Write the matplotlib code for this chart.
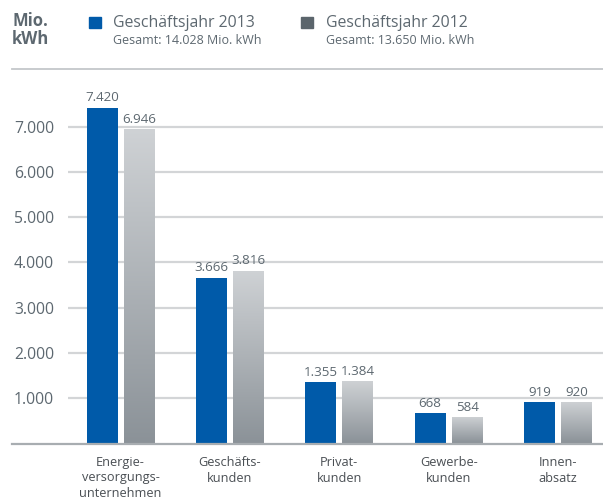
import numpy as np
import matplotlib
matplotlib.use("Agg")
import matplotlib.pyplot as plt
from matplotlib.lines import Line2D
from matplotlib.patches import Rectangle
from matplotlib.ticker import FuncFormatter

plt.rcParams['font.family'] = ['Open Sans', 'DejaVu Sans']

categories = ["Energie-\nversorgungs-\nunternehmen", "Geschäfts-\nkunden",
              "Privat-\nkunden", "Gewerbe-\nkunden", "Innen-\nabsatz"]
values_2013 = [7420, 3666, 1355, 668, 919]
values_2012 = [6946, 3816, 1384, 584, 920]
series_names = ["Geschäftsjahr 2013", "Geschäftsjahr 2012"]
totals = ["Gesamt: 14.028 Mio. kWh", "Gesamt: 13.650 Mio. kWh"]
yticks = [1000, 2000, 3000, 4000, 5000, 6000, 7000]

BLUE = "#005aa9"
TXT = "#5d6870"
GRID = "#d3d5d7"

def de_fmt(v):
    return f"{int(round(v)):,}".replace(",", ".")

W, H = 603, 500
fig = plt.figure(figsize=(W / 100, H / 100), dpi=100)
ax = fig.add_axes([68 / W, (H - 443.5) / H, 1 - 68 / W, (443.5 - 81.4) / H])

x = np.arange(len(categories))
bw = 0.283
off = 0.169

ax.bar(x - off, values_2013, width=bw, color=BLUE, zorder=3)

# gray bars with vertical gradient, light on top, darker at the base
grad = np.linspace(0, 1, 256).reshape(-1, 1)
cmap = matplotlib.colors.LinearSegmentedColormap.from_list("g", ["#8b9298", "#cfd2d5"])
bars12 = ax.bar(x + off, values_2012, width=bw, color="none", zorder=3)
for b in bars12:
    x0 = b.get_x()
    w, h = b.get_width(), b.get_height()
    im = ax.imshow(grad, extent=[x0, x0 + w, 0, h], origin="lower", cmap=cmap,
                   aspect="auto", zorder=3, interpolation="bilinear")
    im.set_clip_path(b)
ax.set_xlim(-0.48, 4.41)
ax.set_ylim(0, 8000)

for xs, vals in ((x - off, values_2013), (x + off, values_2012)):
    for xi, v in zip(xs, vals):
        ax.text(xi, v + 140, de_fmt(v), ha="center", va="baseline",
                fontsize=9.6, color=TXT)

ax.set_yticks(yticks)
ax.yaxis.set_major_formatter(FuncFormatter(lambda v, p: de_fmt(v)))
ax.tick_params(axis="y", length=0, pad=10, labelsize=11.3, labelcolor=TXT)
ax.grid(axis="y", color=GRID, linewidth=1.6, zorder=0)
ax.set_xticks(x)
ax.set_xticklabels(categories, fontsize=9.2, color="#4a4f54", linespacing=1.25)
ax.tick_params(axis="x", length=0, pad=9)
for s in ax.spines.values():
    s.set_visible(False)

# baseline and top rule across the full width
fig.add_artist(Line2D([12 / W, 1], [(H - 443.5) / H] * 2, color="#a8adb1", lw=1.6))
fig.add_artist(Line2D([12 / W, 1], [(H - 69) / H] * 2, color="#c4c7ca", lw=1.3))

# unit label
fig.text(12 / W, (H - 12) / H, "Mio.\nkWh", ha="left", va="top", fontsize=12,
         fontweight="bold", color=TXT, linespacing=0.98)

# legend
for sx, tx, col, name, tot in [(89, 113, BLUE, series_names[0], totals[0]),
                               (301, 326, "#5b656c", series_names[1], totals[1])]:
    fig.add_artist(Rectangle((sx / W, (H - 28) / H), 12 / W, 11 / H, color=col,
                             transform=fig.transFigure))
    fig.text(tx / W, (H - 23) / H, name, ha="left", va="center", fontsize=11.4, color=TXT)
    fig.text(tx / W, (H - 41) / H, tot, ha="left", va="center", fontsize=9, color=TXT)

fig.savefig("out.png", dpi=100)
